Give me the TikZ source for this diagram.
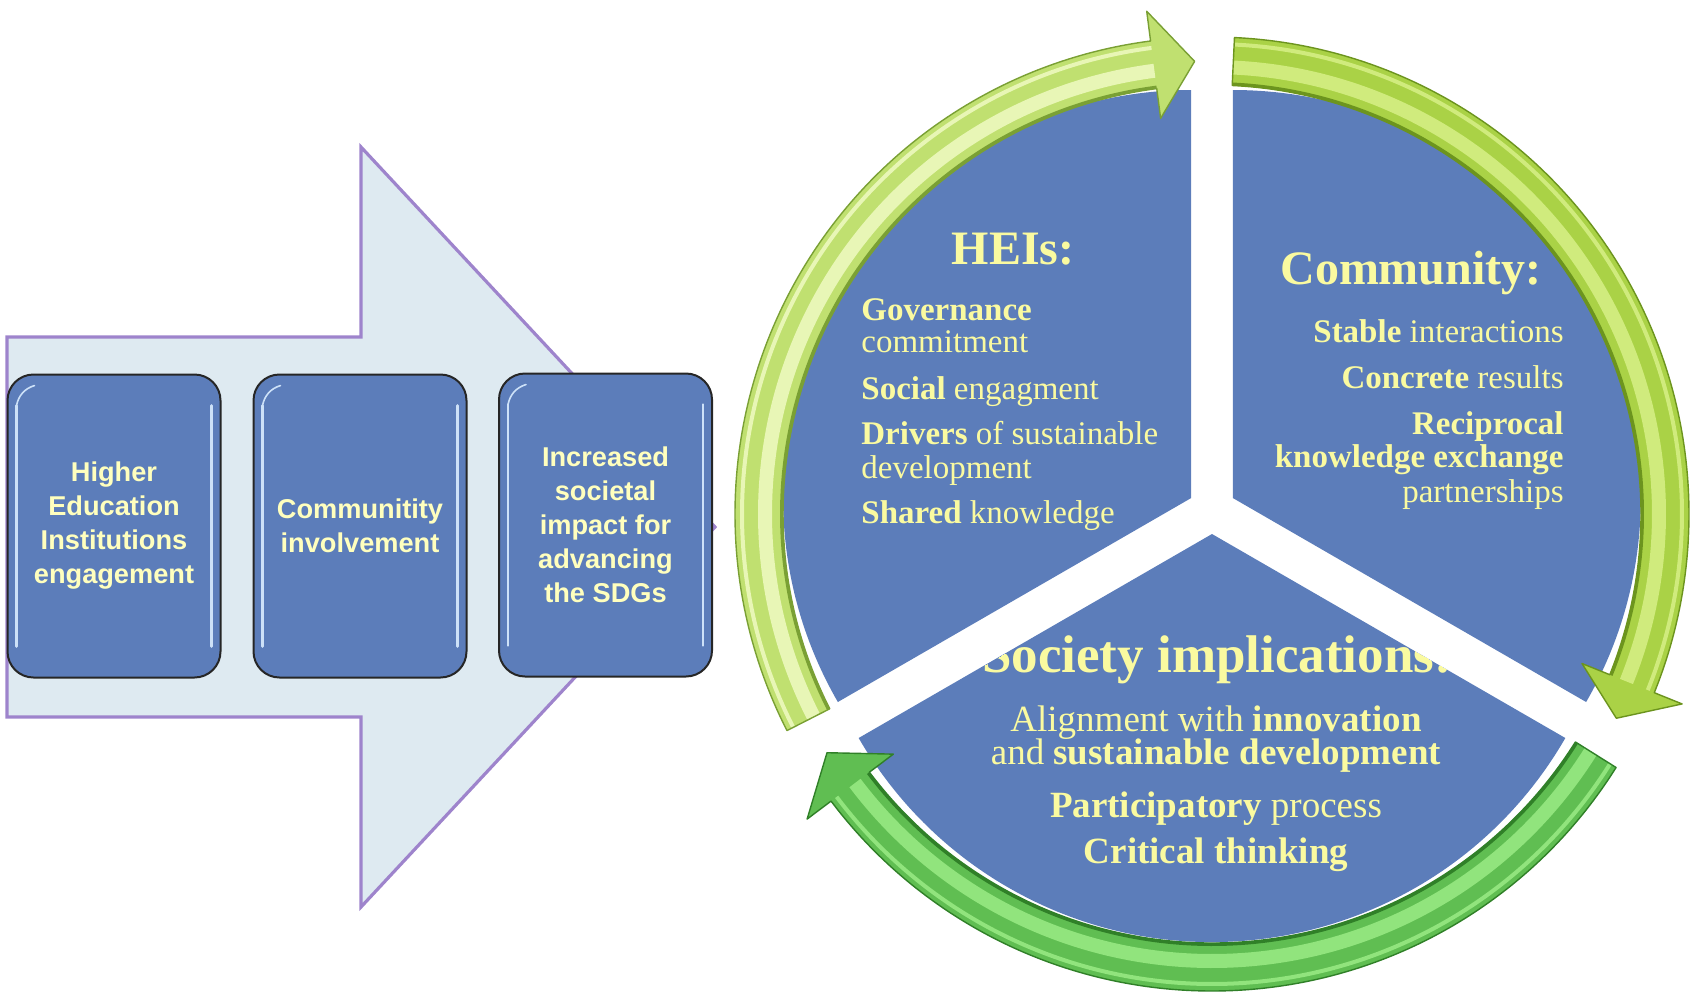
\documentclass[tikz,border=0pt]{standalone}
\usepackage{fontspec}
\setmainfont{Liberation Serif}
\setsansfont{Liberation Sans}
\usetikzlibrary{calc}
\definecolor{segblue}{RGB}{92,125,186}
\definecolor{bigfill}{RGB}{222,234,241}
\definecolor{bigline}{RGB}{158,132,204}
\definecolor{boxtext}{RGB}{255,255,190}
\definecolor{segtext}{RGB}{250,250,160}
\definecolor{boxhl}{RGB}{205,225,248}
\definecolor{heiF}{RGB}{192,224,112}
\definecolor{heiH}{RGB}{232,246,182}
\definecolor{heiE}{RGB}{122,160,52}
\definecolor{comF}{RGB}{170,210,70}
\definecolor{comH}{RGB}{208,235,125}
\definecolor{comE}{RGB}{108,148,30}
\definecolor{socF}{RGB}{96,190,82}
\definecolor{socH}{RGB}{145,228,125}
\definecolor{socE}{RGB}{48,128,40}
\newcommand\ringarrow[6]{%
  \fill[#4] ($(RC)+(#1:477)$) arc[start angle=#1, end angle=#2, radius=477] -- ($(RC)+(#2:507)$) -- ($(RC)+(#3:453)$) -- ($(RC)+(#2:399)$) -- ($(RC)+(#2:429)$) arc[start angle=#2, end angle=#1, radius=429] -- cycle;
  \begin{scope}
    \clip ($(RC)+(#1:477)$) arc[start angle=#1, end angle=#2, radius=477] -- ($(RC)+(#2:507)$) -- ($(RC)+(#3:453)$) -- ($(RC)+(#2:399)$) -- ($(RC)+(#2:429)$) arc[start angle=#2, end angle=#1, radius=429] -- cycle;
    \draw[#5, line width=7pt] ($(RC)+(#1:447)$) arc[start angle=#1, end angle=#2, radius=447];
    \draw[#5, line width=2pt] ($(RC)+(#1:470)$) arc[start angle=#1, end angle=#2, radius=470];
    \draw[#6, line width=3pt] ($(RC)+(#1:429)$) arc[start angle=#1, end angle=#2, radius=429];
  \end{scope}
  \draw[#6, line width=0.7pt, line join=round] ($(RC)+(#1:477)$) arc[start angle=#1, end angle=#2, radius=477] -- ($(RC)+(#2:507)$) -- ($(RC)+(#3:453)$) -- ($(RC)+(#2:399)$) -- ($(RC)+(#2:429)$) arc[start angle=#2, end angle=#1, radius=429] -- cycle;
}
\tikzset{
  stagebox/.style={draw=black!85, line width=1pt, fill=segblue, rounded corners=13pt,
    minimum width=106.5pt, minimum height=151.5pt, inner sep=0pt,
    text=boxtext, align=center, font=\sffamily\bfseries\fontsize{13.6}{17}\selectfont},
  boxgloss/.style={boxhl, line width=1.3pt, line cap=round},
  itemtxt/.style={text=segtext, inner sep=0pt, font=\fontsize{16.5}{19}\selectfont},
  soctxt/.style={text=segtext, inner sep=0pt, font=\fontsize{18.5}{21}\selectfont},
  titletxt/.style={text=segtext, inner sep=0pt, font=\bfseries\fontsize{24}{28}\selectfont}
}
\begin{document}
\begin{tikzpicture}[x=0.5pt,y=-0.5pt]
\useasboundingbox (0,0) rectangle (1699,998);
% big background arrow
\draw[bigline, fill=bigfill, line width=1.6pt, line join=miter]
  (7,337) -- (361,337) -- (361,147) -- (715,527) -- (361,907) -- (361,717) -- (7,717) -- cycle;
% stage boxes
\node[stagebox] (b1) at (114,526) {Higher\\Education\\Institutions\\engagement};
\node[stagebox] (b2) at (360,526) {Communitity\\involvement};
\node[stagebox] (b3) at (605.5,525) {Increased\\societal\\impact for\\advancing\\the SDGs};
\foreach \b in {b1,b2,b3}{
  \draw[boxgloss] ([xshift=5pt,yshift=-16pt]\b.north west) -- ([xshift=5pt,yshift=16pt]\b.south west);
  \draw[boxgloss] ([xshift=-5pt,yshift=-16pt]\b.north east) -- ([xshift=-5pt,yshift=16pt]\b.south east);
  \draw[boxgloss, line width=0.8pt] ([xshift=5pt,yshift=-16pt]\b.north west) to[bend left=30] ([xshift=14pt,yshift=-6pt]\b.north west);
}
% pie segments (exploded)
\coordinate (RC) at (1212,514);
\coordinate (hc) at (1191.2,498);
\coordinate (cc) at (1232.8,498);
\coordinate (sc) at (1212,534);
\fill[segblue] (hc) -- ++(150:408) arc[start angle=150, end angle=270, radius=408] -- cycle;
\fill[segblue] (cc) -- ++(-90:408) arc[start angle=-90, end angle=30, radius=408] -- cycle;
\fill[segblue] (sc) -- ++(30:408) arc[start angle=30, end angle=150, radius=408] -- cycle;
% HEIs text
\node[titletxt, anchor=base] (ht) at (1013,264) {HEIs:};
\node[itemtxt, anchor=base west] (h1) at (861,320) {\textbf{Governance}};
\node[itemtxt, anchor=base west] (h2) at (861,352) {commitment};
\node[itemtxt, anchor=base west] (h3) at (861,399) {\textbf{Social} engagment};
\node[itemtxt, anchor=base west] (h4) at (861,444) {\textbf{Drivers} of sustainable};
\node[itemtxt, anchor=base west] (h5) at (861,478) {development};
\node[itemtxt, anchor=base west] (h6) at (861,523) {\textbf{Shared} knowledge};
% Community text
\node[titletxt, anchor=base] (ct) at (1411,284) {Community:};
\node[itemtxt, anchor=base east] (c1) at (1564,342) {\textbf{Stable} interactions};
\node[itemtxt, anchor=base east] (c2) at (1564,388) {\textbf{Concrete} results};
\node[itemtxt, anchor=base east] (c3) at (1564,434) {\textbf{Reciprocal}};
\node[itemtxt, anchor=base east] (c4) at (1564,467) {\textbf{knowledge exchange}};
\node[itemtxt, anchor=base east] (c5) at (1564,502) {partnerships};
% Society text
\begin{scope}
  \clip (sc) -- ++(30:408) arc[start angle=30, end angle=150, radius=408] -- cycle;
  \node[titletxt, anchor=base, text depth=0pt, font=\bfseries\fontsize{26.5}{30}\selectfont] (st) at (1217,672) {Society implications:};
\end{scope}
\node[soctxt, anchor=base] (s1) at (1216,731) {Alignment with \textbf{innovation}};
\node[soctxt, anchor=base] (s2) at (1216,764) {and \textbf{sustainable development}};
\node[soctxt, anchor=base] (s3) at (1216,817) {\textbf{Participatory} process};
\node[soctxt, anchor=base] (s4) at (1216,863) {\textbf{Critical thinking}};
% cycle arrows
\ringarrow{153}{262.6}{267.8}{heiF}{heiH}{heiE}
\ringarrow{-87.3}{22}{26.8}{comF}{comH}{comE}
\ringarrow{32.1}{143}{148.2}{socF}{socH}{socE}
\end{tikzpicture}
\end{document}
